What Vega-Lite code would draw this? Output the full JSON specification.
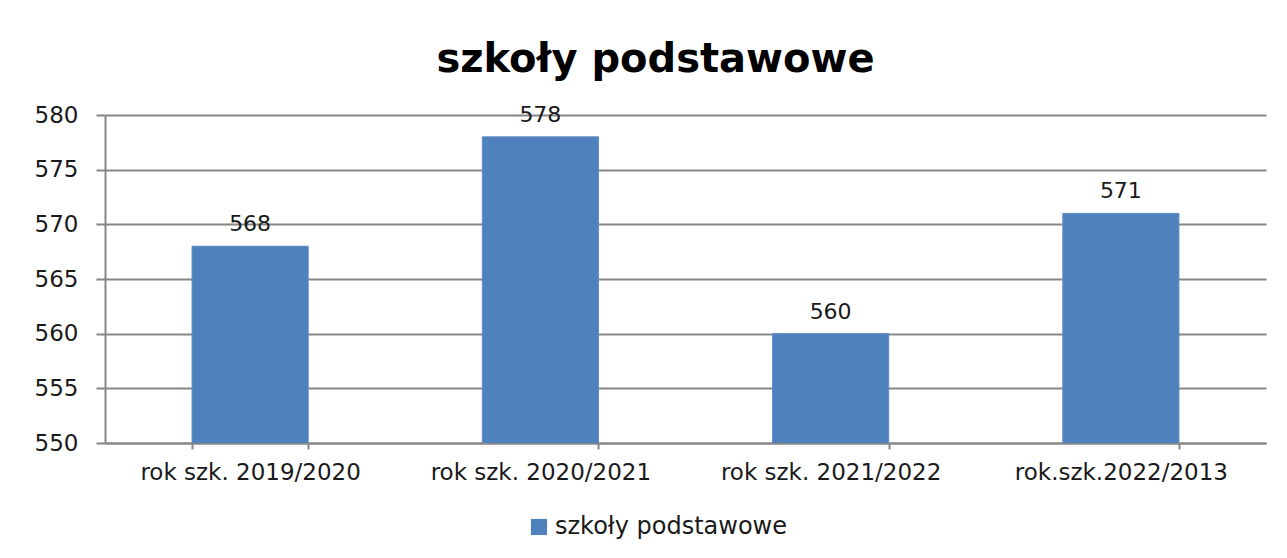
{
  "$schema": "https://vega.github.io/schema/vega-lite/v6.json",
  "width": 1161,
  "height": 328,
  "autosize": {"type": "none"},
  "padding": {"left": 105, "top": 115, "right": 21, "bottom": 115},
  "background": "white",
  "title": {
    "text": "szkoły podstawowe",
    "font": "DejaVu Sans",
    "fontSize": 40,
    "fontWeight": "bold",
    "color": "#000000",
    "anchor": "middle",
    "dx": -30,
    "offset": 24
  },
  "data": {
    "values": [
      {"rok": "rok szk. 2019/2020", "liczba": 568, "seria": "szkoły podstawowe"},
      {"rok": "rok szk. 2020/2021", "liczba": 578, "seria": "szkoły podstawowe"},
      {"rok": "rok szk. 2021/2022", "liczba": 560, "seria": "szkoły podstawowe"},
      {"rok": "rok.szk.2022/2013", "liczba": 571, "seria": "szkoły podstawowe"}
    ]
  },
  "config": {
    "view": {"stroke": null},
    "font": "DejaVu Sans"
  },
  "encoding": {
    "x": {
      "field": "rok",
      "type": "nominal",
      "sort": null,
      "scale": {"paddingInner": 0.6, "paddingOuter": 0.3},
      "axis": {
        "title": null,
        "labelAngle": 0,
        "labelFont": "DejaVu Sans",
        "labelFontSize": 23,
        "labelLimit": 0,
        "labelColor": "#1a1a1a",
        "labelPadding": 12,
        "tickBand": "extent",
        "tickSize": 6,
        "tickColor": "#878787",
        "tickWidth": 2,
        "domainColor": "#878787",
        "domainWidth": 2,
        "grid": false
      }
    },
    "y": {
      "field": "liczba",
      "type": "quantitative",
      "scale": {"domain": [550, 580], "zero": false, "nice": false},
      "axis": {
        "title": null,
        "values": [550, 555, 560, 565, 570, 575, 580],
        "labelFont": "DejaVu Sans",
        "labelFontSize": 23,
        "labelColor": "#1a1a1a",
        "labelPadding": 18,
        "tickSize": 9,
        "tickColor": "#878787",
        "tickWidth": 2,
        "domainColor": "#878787",
        "domainWidth": 2,
        "grid": true,
        "gridColor": "#878787",
        "gridWidth": 2
      }
    }
  },
  "layer": [
    {
      "mark": {"type": "bar", "clip": true, "stroke": "#5b8cc6", "strokeWidth": 1},
      "encoding": {
        "color": {
          "field": "seria",
          "type": "nominal",
          "scale": {"range": ["#4f81bd"]},
          "legend": {
            "title": null,
            "orient": "none",
            "legendX": 422,
            "legendY": 400,
            "direction": "horizontal",
            "symbolType": "square",
            "symbolSize": 260,
            "symbolStrokeWidth": 0,
            "labelFont": "DejaVu Sans",
            "labelFontSize": 24,
            "labelLimit": 0,
            "labelColor": "#1a1a1a"
          }
        }
      }
    },
    {
      "mark": {"type": "text", "baseline": "bottom", "dy": -10, "font": "DejaVu Sans", "fontSize": 22, "color": "#1a1a1a"},
      "encoding": {
        "text": {"field": "liczba", "type": "quantitative"}
      }
    }
  ]
}
